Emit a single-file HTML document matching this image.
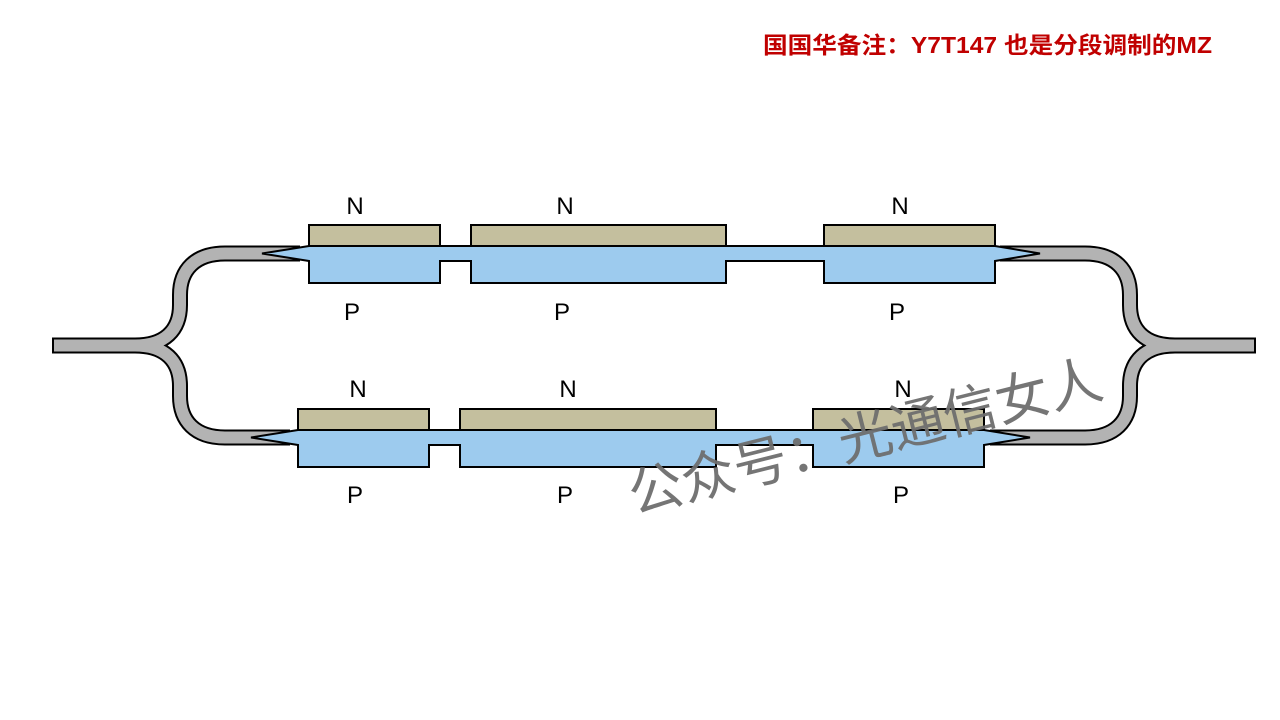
<!DOCTYPE html>
<html><head><meta charset="utf-8"><style>
html,body{margin:0;padding:0;background:#fff;}
svg{display:block;}
</style></head><body>
<svg width="1280" height="720" viewBox="0 0 1280 720" xmlns="http://www.w3.org/2000/svg">
<rect width="1280" height="720" fill="#fff"/>
<text x="763" y="53" textLength="449" lengthAdjust="spacingAndGlyphs" font-family="Liberation Sans, Noto Sans CJK SC, sans-serif" font-weight="bold" font-size="23" fill="#c00000">国国华备注：Y7T147 也是分段调制的MZ</text>

<g fill="none" stroke="#000" stroke-width="16">
<path d="M52,345.5 H135 C165,345.5 180,330 180,305 V295 C180,270 195,253.5 225,253.5 H300"/>
<path d="M135,345.5 C165,345.5 180,361 180,386 V396 C180,421 195,437.5 225,437.5 H290"/>
<path d="M1256,345.5 H1175 C1145,345.5 1130,330 1130,305 V295 C1130,270 1115,253.5 1085,253.5 H1000"/>
<path d="M1175,345.5 C1145,345.5 1130,361 1130,386 V396 C1130,421 1115,437.5 1085,437.5 H990"/>
</g>
<g fill="none" stroke="#b3b3b3" stroke-width="12">
<path d="M54,345.5 H135 C165,345.5 180,330 180,305 V295 C180,270 195,253.5 225,253.5 H300"/>
<path d="M135,345.5 C165,345.5 180,361 180,386 V396 C180,421 195,437.5 225,437.5 H290"/>
<path d="M1254,345.5 H1175 C1145,345.5 1130,330 1130,305 V295 C1130,270 1115,253.5 1085,253.5 H1000"/>
<path d="M1175,345.5 C1145,345.5 1130,361 1130,386 V396 C1130,421 1115,437.5 1085,437.5 H990"/>
</g>

<g stroke="#000" stroke-width="2" fill="#c4bf9e">
<rect x="309" y="225" width="131" height="21"/>
<rect x="471" y="225" width="255" height="21"/>
<rect x="824" y="225" width="171" height="21"/>
</g>
<path d="M262,253.5 L309,246 H995 L1040,253.5 L995,261 V283 H824 V261 H726 V283 H471 V261 H440 V283 H309 V261 Z" fill="#9dcbee" stroke="#000" stroke-width="2"/>

<g stroke="#000" stroke-width="2" fill="#c4bf9e">
<rect x="298" y="409" width="131" height="21"/>
<rect x="460" y="409" width="256" height="21"/>
<rect x="813" y="409" width="171" height="21"/>
</g>
<path d="M251,437.5 L298,430 H984 L1030,437.5 L984,445 V467 H813 V445 H716 V467 H460 V445 H429 V467 H298 V445 Z" fill="#9dcbee" stroke="#000" stroke-width="2"/>

<g font-family="Liberation Sans, DejaVu Sans, sans-serif" font-size="24" fill="#000" text-anchor="middle">
<text x="355" y="214">N</text><text x="565" y="214">N</text><text x="900" y="214">N</text>
<text x="352" y="320">P</text><text x="562" y="320">P</text><text x="897" y="320">P</text>
<text x="358" y="397">N</text><text x="568" y="397">N</text><text x="903" y="397">N</text>
<text x="355" y="503">P</text><text x="565" y="503">P</text><text x="901" y="503">P</text>
</g>

<text x="0" y="0" transform="translate(634,514) rotate(-14)" font-family="Noto Sans CJK SC, sans-serif" font-size="54" fill="#6e6e6e" fill-opacity="0.95">公众号：光通信女人</text>
</svg>
</body></html>
